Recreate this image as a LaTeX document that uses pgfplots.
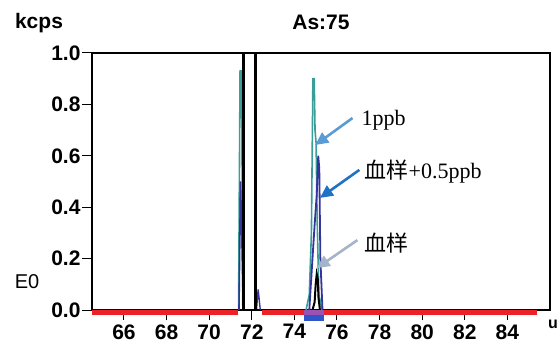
\documentclass[border=0pt]{standalone}
\usepackage{pgfplots}
\pgfplotsset{compat=1.18}
\usepackage{fontspec}
\setmainfont{Liberation Serif}
\setsansfont{Liberation Sans}
\newfontfamily\cjk{Noto Sans CJK SC}
\usetikzlibrary{arrows.meta}
\definecolor{tealc}{HTML}{3A9E98}
\definecolor{navyc}{HTML}{34349C}
\definecolor{redc}{HTML}{EC2227}
\definecolor{bandb}{HTML}{2F55C8}
\definecolor{bandp}{HTML}{9A52B4}
\definecolor{arr1}{HTML}{5B9BD5}
\definecolor{arr2}{HTML}{1F72C4}
\definecolor{arr3}{HTML}{A4B4CA}
\begin{document}
\begin{tikzpicture}
\useasboundingbox (0,0) rectangle (559pt,356pt);
\begin{axis}[
  at={(92pt,46pt)}, anchor=south west, scale only axis,
  width=458pt, height=257pt,
  xmin=64.5, xmax=86, ymin=0, ymax=1,
  xtick={66,68,70,72,74,76,78,80,82,84},
  ytick={0,0.2,0.4,0.6,0.8,1.0},
  yticklabel style={/pgf/number format/fixed, /pgf/number format/fixed zerofill, /pgf/number format/precision=1, xshift=2pt},
  xticklabel style={yshift=-1pt},
  /pgf/number format/assume math mode=true,
  tick align=outside, xtick pos=bottom, ytick pos=left,
  major tick length=10pt,
  tick style={black, line width=1pt},
  ticklabel style={font=\fontsize{21}{24}\selectfont\sffamily\bfseries},
  axis line style={line width=1.2pt},
  clip=false,
]
% 1ppb (teal)
\addplot[tealc, line width=1.6pt] coordinates {
 (71.38,0) (71.45,0.93) (71.52,0.93) (71.58,0)};
\addplot[tealc, line width=1.6pt] coordinates {
 (74.55,0) (74.7,0.06) (74.8,0.3) (74.87,0.9) (74.93,0.9) (74.97,0.7) (75.02,0.65) (75.07,0.35) (75.15,0.06) (75.3,0)};
% blood + 0.5ppb (navy)
\addplot[navyc, line width=1.6pt] coordinates {
 (71.4,0) (71.47,0.5) (71.53,0.3) (71.6,0)};
\addplot[navyc, line width=1.4pt] coordinates {
 (72.22,0) (72.3,0.08) (72.4,0)};
\addplot[navyc, line width=1.8pt] coordinates {
 (74.7,0) (74.85,0.2) (74.95,0.33) (75.05,0.45) (75.12,0.6) (75.17,0.55) (75.22,0.2) (75.32,0)};
% blood (black)
\addplot[black, line width=2pt] coordinates {
 (74.85,0) (74.95,0.03) (75.0,0.1) (75.05,0.14) (75.1,0.12) (75.13,0.05) (75.2,0)};
% tall interference peak
\addplot[black, line width=3pt] coordinates {(71.62,0) (71.62,1.0)};
\addplot[black, line width=3pt] coordinates {(72.18,0) (72.18,1.0)};
% red baseline segments
\addplot[redc, line width=5pt] coordinates {(64.5,-0.009) (71.35,-0.009)};
\addplot[redc, line width=5pt] coordinates {(72.46,-0.009) (85.4,-0.009)};
% integration band
\addplot[bandp, line width=5pt] coordinates {(74.45,-0.01) (75.4,-0.01)};
\addplot[bandb, line width=6pt] coordinates {(74.45,-0.033) (75.4,-0.033)};
% annotations
\draw[arr1, line width=2.6pt, -{Triangle[length=13pt,width=12pt]}] (axis cs:76.73,0.747) -- (axis cs:74.98,0.642);
\draw[arr2, line width=2.6pt, -{Triangle[length=13pt,width=12pt]}] (axis cs:77.05,0.545) -- (axis cs:75.2,0.436);
\draw[arr3, line width=2.6pt, -{Triangle[length=13pt,width=12pt]}] (axis cs:76.96,0.272) -- (axis cs:75.05,0.163);
\node[anchor=west, inner sep=0pt, font=\fontsize{22}{24}\selectfont] at (axis cs:77.15,0.739) {1ppb};
\node[anchor=west, inner sep=0pt, font=\fontsize{22}{24}\selectfont] at (axis cs:77.29,0.537) {{\cjk 血样}+0.5ppb};
\node[anchor=west, inner sep=0pt, font=\fontsize{22}{24}\selectfont] at (axis cs:77.29,0.26) {{\cjk 血样}};
\end{axis}
\node[font=\fontsize{21}{24}\selectfont\sffamily\bfseries] at (39pt,333pt) {kcps};
\node[font=\fontsize{21}{24}\selectfont\sffamily\bfseries] at (321pt,334pt) {As:75};
\node[font=\fontsize{20}{24}\selectfont\sffamily] at (27pt,74pt) {E0};
\node[anchor=west, inner sep=0pt, font=\fontsize{16}{20}\selectfont\sffamily\bfseries] at (548pt,32pt) {u};
\end{tikzpicture}
\end{document}
